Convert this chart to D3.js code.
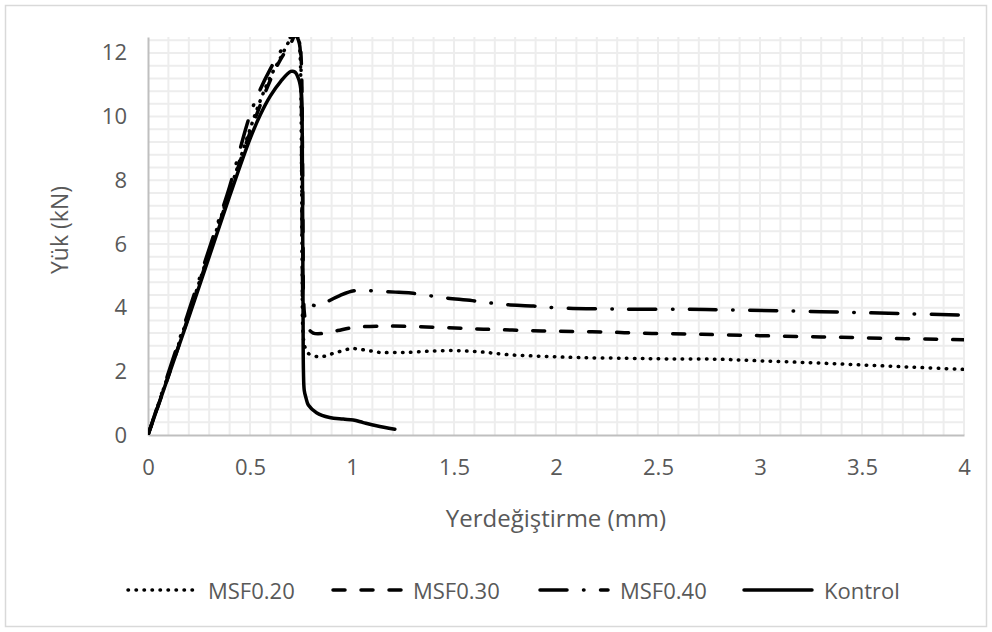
<!DOCTYPE html>
<html><head><meta charset="utf-8">
<script src="https://cdn.jsdelivr.net/npm/d3@7"></script>
<style>
html,body{margin:0;padding:0;background:#fff;}
svg text{font-family:"Open Sans","Noto Sans",sans-serif;fill:#595959;}
</style></head>
<body><svg id="chart" width="992" height="632"></svg>
<script>
// ---- data ----
const seriesNames = ["MSF0.20","MSF0.30","MSF0.40","Kontrol"];
const msf020 = [[0,0],[0.1,1.9],[0.2,3.8],[0.3,5.75],[0.4,7.65],[0.5,9.6],[0.55,10.5],[0.6,11.25],[0.65,11.85],[0.69,12.35],[0.715,12.6],[0.735,12.55],[0.745,12.0],[0.75,10.5],[0.753,8],[0.756,5],[0.76,3.2],[0.77,2.75],[0.79,2.54],[0.835,2.46],[0.87,2.48],[0.91,2.57],[0.95,2.64],[0.99,2.71],[1.02,2.71],[1.06,2.67],[1.10,2.63],[1.14,2.59],[1.19,2.59],[1.26,2.59],[1.37,2.63],[1.50,2.65],[1.63,2.61],[1.77,2.52],[1.94,2.47],[2.12,2.43],[2.35,2.41],[2.55,2.39],[2.79,2.38],[3.0,2.33],[3.25,2.27],[3.5,2.2],[3.75,2.13],[4.0,2.06]];
const msf030 = [[0,0],[0.1,1.85],[0.2,3.75],[0.3,5.7],[0.4,7.6],[0.5,9.5],[0.6,11.15],[0.65,11.8],[0.7,12.3],[0.725,12.6],[0.74,12.45],[0.748,12.1],[0.753,11.4],[0.757,9],[0.76,6],[0.763,4.2],[0.77,3.67],[0.786,3.35],[0.81,3.2],[0.86,3.19],[0.93,3.28],[1.01,3.38],[1.14,3.42],[1.27,3.41],[1.43,3.38],[1.58,3.34],[1.71,3.31],[1.86,3.28],[1.99,3.26],[2.13,3.25],[2.27,3.23],[2.40,3.20],[2.54,3.18],[2.67,3.17],[2.79,3.15],[3.0,3.12],[3.3,3.08],[3.6,3.04],[3.91,3.0],[4.0,2.99]];
const msf040 = [[0,0],[0.1,1.95],[0.2,3.9],[0.3,5.85],[0.4,7.8],[0.5,10.05],[0.55,10.85],[0.6,11.5],[0.65,12.05],[0.69,12.4],[0.71,12.6],[0.73,12.5],[0.742,12.3],[0.75,11.5],[0.753,9],[0.756,6],[0.758,4.6],[0.76,4.24],[0.786,4.14],[0.82,4.06],[0.86,4.10],[0.875,4.17],[0.94,4.38],[1.01,4.53],[1.15,4.51],[1.23,4.48],[1.30,4.45],[1.44,4.32],[1.59,4.22],[1.73,4.11],[1.89,4.05],[2.02,3.99],[2.22,3.96],[2.4,3.95],[2.64,3.95],[2.84,3.93],[3.1,3.9],[3.4,3.86],[3.7,3.81],[3.97,3.77],[4.0,3.76]];
const kontrol = [[0,0],[0.1,1.85],[0.2,3.7],[0.3,5.6],[0.4,7.5],[0.5,9.3],[0.55,10.05],[0.6,10.65],[0.65,11.1],[0.7,11.42],[0.72,11.4],[0.74,11.15],[0.752,10.7],[0.756,9.5],[0.758,7],[0.76,4],[0.762,2],[0.766,1.4],[0.775,1.15],[0.786,0.94],[0.826,0.70],[0.89,0.55],[0.957,0.50],[1.006,0.47],[1.055,0.39],[1.12,0.29],[1.21,0.18]];
const xTicks = [0,0.5,1,1.5,2,2.5,3,3.5,4];
const yTicks = [0,2,4,6,8,10,12];
const xLabel = "Yerdeğiştirme (mm)";
const yLabel = "Yük (kN)";

const seriesData = [msf020, msf030, msf040, kontrol];
const dashes = ["0.5 7.5", "12 16", "27 16.5 0.5 16.5", null];

// ---- layout ----
const svg = d3.select("#chart");
const mLeft = 148, mRight = 964, mTop = 37, mBottom = 435;
const x = d3.scaleLinear().domain([0,4]).range([mLeft,mRight]);
const y = d3.scaleLinear().domain([0,12.5]).range([mBottom,mTop]);

svg.append("rect").attr("x",5.5).attr("y",5.5).attr("width",981).attr("height",621)
  .attr("fill","#fff").attr("stroke","#d9d9d9").attr("stroke-width",1.5);

// gridlines
const g = svg.append("g");
g.selectAll("line.vx").data(d3.range(1,41).map(i=>i/10)).join("line")
  .attr("x1",d=>x(d)).attr("x2",d=>x(d)).attr("y1",y(12.5)).attr("y2",y(0))
  .attr("stroke","#ededed").attr("stroke-width",2);
g.selectAll("line.hy").data(d3.range(1,32).map(i=>i*0.4)).join("line")
  .attr("y1",d=>y(d)).attr("y2",d=>y(d)).attr("x1",x(0)).attr("x2",x(4))
  .attr("stroke","#ededed").attr("stroke-width",2);

// axes
const xAxis = d3.axisBottom(x).tickValues(xTicks).tickSize(0).tickPadding(32).tickFormat(d3.format("~g"));
const yAxis = d3.axisLeft(y).tickValues(yTicks).tickSize(0).tickPadding(21).tickFormat(d3.format("~g"));
const gx = svg.append("g").attr("transform",`translate(0,${mBottom})`).call(xAxis);
const gy = svg.append("g").attr("transform",`translate(${mLeft},0)`).call(yAxis);
[gx,gy].forEach(a=>{
  a.select(".domain").attr("stroke","#bfbfbf").attr("stroke-width",2);
  a.selectAll("text").style("font-size","22px").attr("fill","#595959");
});
gx.selectAll("text").attr("dy","0.35em");

svg.append("text").attr("x",556).attr("y",517).attr("text-anchor","middle")
  .attr("dominant-baseline","central").style("font-size","24px").text(xLabel);
svg.append("text").attr("transform","translate(59,230) rotate(-90)").attr("text-anchor","middle")
  .attr("dominant-baseline","central").style("font-size","23px").text(yLabel);

// clip
svg.append("clipPath").attr("id","clip").append("rect")
  .attr("x",mLeft).attr("y",mTop).attr("width",mRight-mLeft).attr("height",mBottom-mTop);

const line = d3.line().x(d=>x(d[0])).y(d=>y(d[1])).curve(d3.curveCatmullRom.alpha(0.5));
const lg = svg.append("g").attr("clip-path","url(#clip)");
seriesData.forEach((s,i)=>{
  lg.append("path").attr("d",line(s)).attr("fill","none").attr("stroke","#000")
    .attr("stroke-width",3.5).attr("stroke-linecap","round").attr("stroke-linejoin","round")
    .attr("stroke-dasharray",dashes[i]);
});

// legend
const legX = [128, 333, 540, 744];
const leg = svg.append("g");
seriesNames.forEach((n,i)=>{
  leg.append("line").attr("x1",legX[i]).attr("x2",legX[i]+68).attr("y1",590).attr("y2",590)
    .attr("stroke","#000").attr("stroke-width",3.5).attr("stroke-linecap","round")
    .attr("stroke-dasharray",dashes[i]);
  leg.append("text").attr("x",legX[i]+80).attr("y",590).attr("dominant-baseline","central")
    .style("font-size","22px").text(n);
});
</script></body></html>
